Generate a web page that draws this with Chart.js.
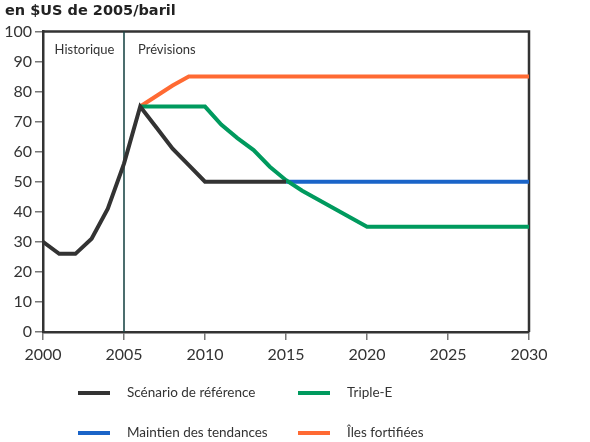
<!DOCTYPE html>
<html><head><meta charset="utf-8">
<script src="https://cdn.jsdelivr.net/npm/chart.js@4"></script>
<style>
html,body{margin:0;padding:0;background:#fff;}
#wrap{position:relative;width:590px;height:442px;}
canvas{position:absolute;left:0;top:0;}
.leg{position:absolute;font-family:Lato,"Open Sans",sans-serif;font-size:13.5px;color:#333;white-space:nowrap;}
.sw{position:absolute;height:4px;}
</style></head>
<body><div id="wrap"><canvas id="c" width="590" height="442"></canvas></div>
<script>
const years = [];
for (let y = 2000; y <= 2030; y++) years.push(y);
const xTicks = [2000,2005,2010,2015,2020,2025,2030];
const yTicks = [0,10,20,30,40,50,60,70,80,90,100];
const titleText = "en $US de 2005/baril";
const seriesNames = ["Scénario de référence","Triple-E","Maintien des tendances","Îles fortifiées"];
const seriesColors = ["#333333","#009a5e","#1a64c8","#ff6a33"];
// values by year 2000..2030 (null = no value)
const reference = [30,26,26,31,41,56,75,68,61,55.5,50,50,50,50,50,50,null,null,null,null,null,null,null,null,null,null,null,null,null,null,null];
const tripleE = [null,null,null,null,null,null,75,75,75,75,75,69,64.5,60.5,55,50.5,47,44,41,38,35,35,35,35,35,35,35,35,35,35,35];
const maintien = [null,null,null,null,null,null,null,null,null,null,null,null,null,null,null,50,50,50,50,50,50,50,50,50,50,50,50,50,50,50,50];
const iles = [null,null,null,null,null,null,75,78.5,82,85,85,85,85,85,85,85,85,85,85,85,85,85,85,85,85,85,85,85,85,85,85];
const splitYear = 2005;
const periodLabels = ["Historique","Prévisions"];

const allSeries = [reference, tripleE, maintien, iles];
const toXY = arr => years.map((y,i)=>({x:y,y:arr[i]})).filter(p=>p.y!==null);

const framePlugin = {
  id:'frame',
  beforeDatasetsDraw(chart){
    const {ctx, chartArea:a, scales:{x}} = chart;
    ctx.save();
    ctx.strokeStyle = '#333'; ctx.lineWidth = 2.5;
    ctx.beginPath();
    ctx.moveTo(a.left, a.top); ctx.lineTo(a.right, a.top); ctx.lineTo(a.right, a.bottom);
    ctx.stroke();
    const sx = x.getPixelForValue(splitYear);
    ctx.strokeStyle = '#1f4a4a'; ctx.lineWidth = 1.6;
    ctx.beginPath(); ctx.moveTo(sx, a.top); ctx.lineTo(sx, a.bottom); ctx.stroke();
    ctx.fillStyle = '#333';
    ctx.font = '13px Lato, "Open Sans", sans-serif';
    ctx.textBaseline = 'middle';
    ctx.textAlign = 'center';
    ctx.fillText(periodLabels[0], (a.left + sx)/2 + 1, a.top + 18);
    ctx.textAlign = 'left';
    ctx.fillText(periodLabels[1], sx + 14, a.top + 18);
    ctx.restore();
  }
};

new Chart(document.getElementById('c'), {
  type:'line',
  data:{ datasets: allSeries.map((s,i)=>({
    label: seriesNames[i], data: toXY(s), borderColor: seriesColors[i], backgroundColor: seriesColors[i],
    borderWidth: 4, pointRadius: 0, tension: 0, borderJoinStyle:'miter', fill:false
  }))},
  options:{
    responsive:false, animation:false,
    layout:{padding:{left:5,right:61,top:0,bottom:68}},
    plugins:{
      legend:{display:false}, tooltip:{enabled:false},
      title:{display:true, text:titleText, align:'start', color:'#222',
        font:{family:'"DejaVu Sans", sans-serif', size:14.5, weight:'bold'}, padding:{top:3,bottom:11}}
    },
    scales:{
      x:{type:'linear', min:2000, max:2030,
        afterBuildTicks: s => { s.ticks = xTicks.map(v=>({value:v})); },
        afterFit: s => { s.height = 42; },
        border:{color:'#333', width:2.5},
        grid:{drawOnChartArea:false, drawTicks:true, tickLength:8, color:'#777', lineWidth:1.5},
        ticks:{color:'#333', font:{family:'Lato, "Open Sans", sans-serif', size:16}, padding:5, maxRotation:0, callback:v=>String(v)}
      },
      y:{min:0, max:100,
        afterBuildTicks: s => { s.ticks = yTicks.map(v=>({value:v})); },
        afterFit: s => { s.width = 38; },
        border:{color:'#333', width:2.5},
        grid:{drawOnChartArea:false, drawTicks:true, tickLength:8, color:'#777', lineWidth:1.5},
        ticks:{color:'#333', font:{family:'Lato, "Open Sans", sans-serif', size:16}, padding:3}
      }
    }
  },
  plugins:[framePlugin]
});

// HTML legend (2 x 2 grid) built from the series names/colours
const wrap = document.getElementById('wrap');
const legPos = [[78,127,393],[298,347,393],[78,127,433],[298,347,433]];
seriesNames.forEach((n,i)=>{
  const [sx,tx,cy] = legPos[i];
  const sw = document.createElement('div'); sw.className='sw';
  sw.style.left=sx+'px'; sw.style.top=(cy-2)+'px'; sw.style.width='32px'; sw.style.background=seriesColors[i];
  wrap.appendChild(sw);
  const t = document.createElement('div'); t.className='leg'; t.textContent=n;
  t.style.left=tx+'px'; t.style.top=(cy-9)+'px';
  wrap.appendChild(t);
});
</script></body></html>
